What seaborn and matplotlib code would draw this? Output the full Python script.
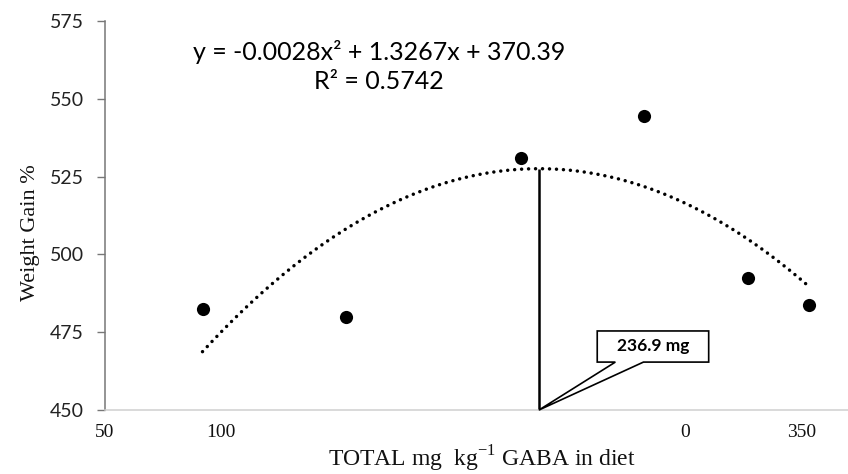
import numpy as np
import pandas as pd
import matplotlib
matplotlib.use("Agg")
import matplotlib.pyplot as plt
from matplotlib.patches import Polygon
import seaborn as sns

# Observed weight gain at each total GABA level
gaba_total = [92, 154, 229, 282, 327, 353]
weight_gain = [482.3, 479.9, 530.9, 544.5, 492.4, 483.8]

# Quadratic fit reported on the chart
coef_a, coef_b, coef_c = -0.0028, 1.3267, 370.39
r_squared = 0.5742
optimum_dose = 236.9

y_ticks = [450, 475, 500, 525, 550, 575]
x_tick_pos = [50, 100, 300, 350]
x_tick_labels = ["50", "100", "0", "350"]

sns.set_theme(style="white")
plt.rcParams["font.family"] = ["Lato", "DejaVu Sans"]
plt.rcParams["mathtext.fontset"] = "custom"
plt.rcParams["mathtext.rm"] = "Liberation Serif"

fig = plt.figure(figsize=(8.48, 4.74), dpi=100)
ax = fig.add_axes([0.1238, 0.135, 0.8762, 0.8207])

df = pd.DataFrame({"dose": gaba_total, "gain": weight_gain})

# fitted trend line across the observed dose range
fit_x = np.linspace(min(gaba_total), max(gaba_total) - 1, 300)
fit_y = coef_a * fit_x ** 2 + coef_b * fit_x + coef_c
fit_df = pd.DataFrame({"dose": fit_x, "gain": fit_y})
sns.lineplot(data=fit_df, x="dose", y="gain", ax=ax, color="black",
             lw=2.5, linestyle=(0, (0.01, 2.0)), dash_capstyle="round",
             legend=False)

sns.scatterplot(data=df, x="dose", y="gain", ax=ax, color="black",
                s=90, edgecolor="black", linewidth=0, zorder=3)

# vertical marker at the optimum dose
opt_y = coef_a * optimum_dose ** 2 + coef_b * optimum_dose + coef_c
ax.plot([optimum_dose, optimum_dose], [450, opt_y], color="black", lw=1.8,
        solid_capstyle="butt", clip_on=False, zorder=2)

# callout box pointing to the optimum
bx0, bx1, by0, by1 = 262, 310, 465.4, 475.4
callout = Polygon([(bx0, by1), (bx1, by1), (bx1, by0), (281.9, by0),
                   (optimum_dose, 450), (269.8, by0), (bx0, by0)],
                  closed=True, facecolor="white", edgecolor="black",
                  lw=1.2, zorder=4, clip_on=False)
ax.add_patch(callout)
ax.text((bx0 + bx1) / 2, (by0 + by1) / 2 + 0.3, f"{optimum_dose} mg",
        ha="center", va="center", fontsize=12.5, fontweight="bold",
        color="black", zorder=5)

# regression equation
ax.text(168, 565.1, f"y = {coef_a}x² + {coef_b}x + {coef_c}", ha="center",
        va="center", fontsize=18, color="black")
ax.text(168, 555.4, f"R² = {r_squared}", ha="center", va="center",
        fontsize=18, color="black")

ax.set_xlim(50, 370)
ax.set_ylim(450, 575)
ax.set_yticks(y_ticks)
ax.set_yticklabels([str(v) for v in y_ticks], fontsize=14, color="#222222")
ax.set_xticks(x_tick_pos)
ax.set_xticklabels(x_tick_labels, fontsize=14, family="Liberation Serif",
                   color="#111111")
ax.tick_params(axis="y", length=6, width=1, color="#777777", left=True,
               direction="out", pad=9)
ax.tick_params(axis="x", length=0, pad=10)

ax.set_xlabel("TOTAL mg  kg$^{\\mathrm{-1}}$ GABA in diet",
              family="Liberation Serif", fontsize=17, color="#111111",
              va="center")
ax.xaxis.set_label_coords(0.507, -0.125)
ax.set_ylabel("Weight Gain %", family="Liberation Serif", fontsize=16,
              color="#111111", va="center")
ax.yaxis.set_label_coords(-0.1, 0.455)

for side in ["top", "right"]:
    ax.spines[side].set_visible(False)
ax.spines["left"].set_color("#777777")
ax.spines["left"].set_linewidth(1.1)
ax.spines["bottom"].set_color("#cfcfcf")
ax.spines["bottom"].set_linewidth(1.1)

fig.savefig("out.png", dpi=100, facecolor="white")
